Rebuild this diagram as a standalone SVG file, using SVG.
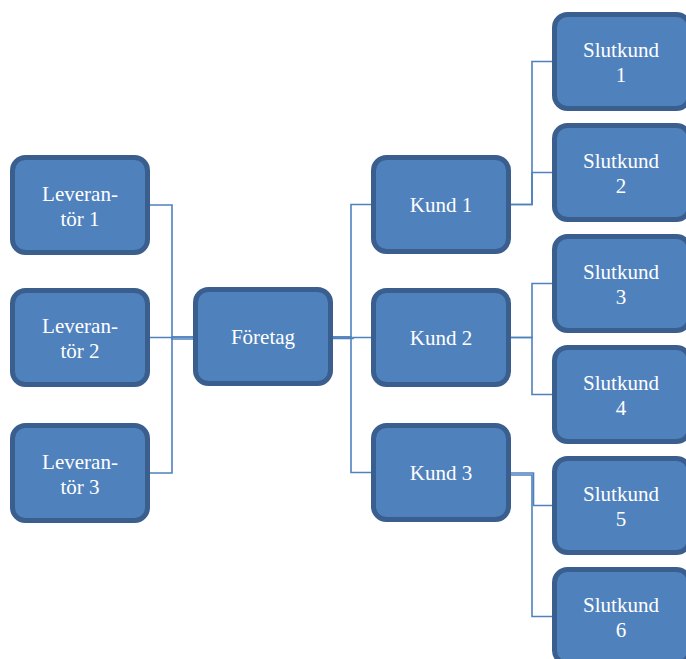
<svg xmlns="http://www.w3.org/2000/svg" width="686" height="659" viewBox="0 0 686 659">
  <style>
    .box { fill: #4f81bd; stroke: #3a5f8e; stroke-width: 5; }
    .lbl { font-family: 'Liberation Serif', 'Times New Roman', Times, 'DejaVu Serif', serif; font-size: 21px; fill: #ffffff; text-anchor: middle; }
    .wire { fill: none; stroke: #4f81bd; stroke-width: 1.6; }
  </style>
  <rect width="686" height="659" fill="#ffffff"/>

  <!-- connectors -->
  <g id="connectors">
    <path class="wire" d="M150,205 H172 V337 H193"/>
    <path class="wire" d="M150,337.5 H172 V339 H193"/>
    <path class="wire" d="M150,473 H172 V337 H193"/>
    <path class="wire" d="M333,337 H351 V204.5 H371"/>
    <path class="wire" d="M333,338.5 H353 V337.5 H371"/>
    <path class="wire" d="M333,337 H351 V472.5 H371"/>
    <path class="wire" d="M511,204.5 H532 V61.5 H552"/>
    <path class="wire" d="M511,204.5 H532 V172.5 H552"/>
    <path class="wire" d="M511,337.5 H532 V283.5 H552"/>
    <path class="wire" d="M511,337.5 H532 V394.5 H552"/>
    <path class="wire" d="M511,473 H533.5 V505.5 H552"/>
    <path class="wire" d="M511,475 H532 V616.5 H552"/>
  </g>

  <g font-family="Liberation Serif, Times New Roman, serif">
  <!-- suppliers -->
  <g id="leverantor1">
    <rect class="box" x="12.5" y="157.5" width="135" height="95" rx="13"/>
    <text class="lbl" x="80" y="200.5">Leveran-</text>
    <text class="lbl" x="80" y="225.5">tör 1</text>
  </g>
  <g id="leverantor2">
    <rect class="box" x="12.5" y="290.5" width="135" height="94" rx="13"/>
    <text class="lbl" x="80" y="333">Leveran-</text>
    <text class="lbl" x="80" y="358">tör 2</text>
  </g>
  <g id="leverantor3">
    <rect class="box" x="12.5" y="425.5" width="135" height="95" rx="13"/>
    <text class="lbl" x="80" y="468.5">Leveran-</text>
    <text class="lbl" x="80" y="493.5">tör 3</text>
  </g>

  <!-- company -->
  <g id="foretag">
    <rect class="box" x="195.5" y="289.5" width="135" height="94" rx="13"/>
    <text class="lbl" x="263" y="344">Företag</text>
  </g>

  <!-- customers -->
  <g id="kund1">
    <rect class="box" x="373.5" y="157.5" width="135" height="94" rx="13"/>
    <text class="lbl" x="441" y="212">Kund 1</text>
  </g>
  <g id="kund2">
    <rect class="box" x="373.5" y="290.5" width="135" height="94" rx="13"/>
    <text class="lbl" x="441" y="345">Kund 2</text>
  </g>
  <g id="kund3">
    <rect class="box" x="373.5" y="425.5" width="135" height="94" rx="13"/>
    <text class="lbl" x="441" y="480">Kund 3</text>
  </g>

  <!-- end customers -->
  <g id="slutkund1">
    <rect class="box" x="554.5" y="14.5" width="135" height="94" rx="13"/>
    <text class="lbl" x="621" y="57">Slutkund</text>
    <text class="lbl" x="621" y="82">1</text>
  </g>
  <g id="slutkund2">
    <rect class="box" x="554.5" y="125.5" width="135" height="94" rx="13"/>
    <text class="lbl" x="621" y="168">Slutkund</text>
    <text class="lbl" x="621" y="193">2</text>
  </g>
  <g id="slutkund3">
    <rect class="box" x="554.5" y="236.5" width="135" height="94" rx="13"/>
    <text class="lbl" x="621" y="279">Slutkund</text>
    <text class="lbl" x="621" y="304">3</text>
  </g>
  <g id="slutkund4">
    <rect class="box" x="554.5" y="347.5" width="135" height="94" rx="13"/>
    <text class="lbl" x="621" y="390">Slutkund</text>
    <text class="lbl" x="621" y="415">4</text>
  </g>
  <g id="slutkund5">
    <rect class="box" x="554.5" y="458.5" width="135" height="94" rx="13"/>
    <text class="lbl" x="621" y="501">Slutkund</text>
    <text class="lbl" x="621" y="526">5</text>
  </g>
  <g id="slutkund6">
    <rect class="box" x="554.5" y="569.5" width="135" height="94" rx="13"/>
    <text class="lbl" x="621" y="612">Slutkund</text>
    <text class="lbl" x="621" y="637">6</text>
  </g>
  </g>
</svg>
